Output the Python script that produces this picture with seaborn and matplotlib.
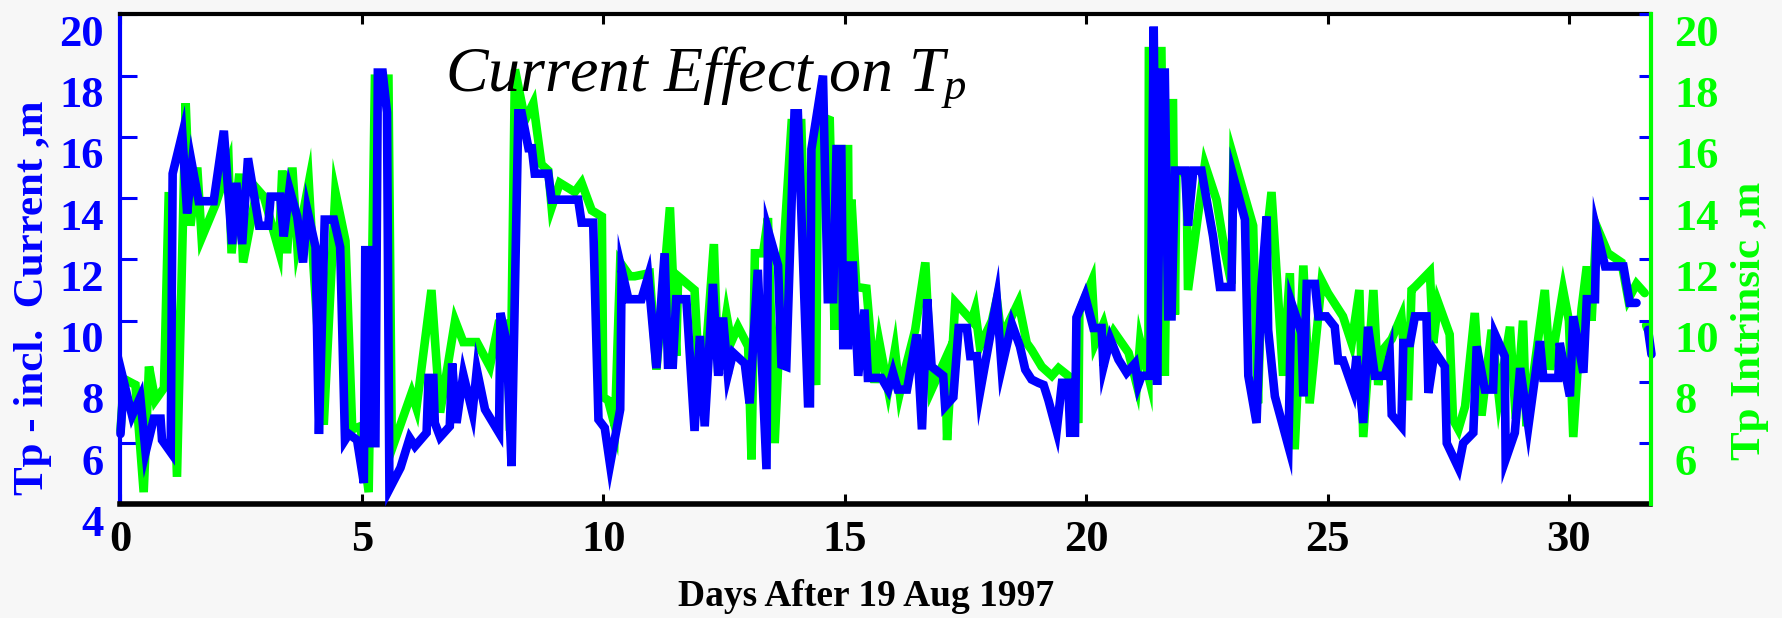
import numpy as np
import pandas as pd
import matplotlib
matplotlib.use("Agg")
import matplotlib.pyplot as plt
import seaborn as sns
from matplotlib.transforms import ScaledTranslation

# ---------------- data ----------------
blue_days = [0.00, 0.07, 0.24, 0.41, 0.52, 0.69, 0.83, 0.86, 1.04, 1.08, 1.28, 1.38, 1.48, 1.62, 1.93,
             2.14, 2.31, 2.40, 2.52, 2.64, 2.87, 3.06, 3.11, 3.31, 3.38, 3.50, 3.66, 3.78, 3.87, 4.04,
             4.11, 4.23, 4.42, 4.55, 4.65, 4.73, 4.90, 5.04, 5.07, 5.17, 5.22, 5.28, 5.33, 5.43, 5.52,
             5.57, 5.80, 5.99, 6.10, 6.34, 6.38, 6.48, 6.51, 6.62, 6.82, 6.87, 6.96, 7.10, 7.29, 7.38,
             7.55, 7.84, 7.87, 8.00, 8.10, 8.24, 8.31, 8.45, 8.52, 8.58, 8.86, 8.93, 9.48, 9.55, 9.79,
             9.90, 10.03, 10.14, 10.35, 10.38, 10.52, 10.79, 10.93, 11.10, 11.27, 11.34, 11.44, 11.51, 11.72, 11.89,
             12.00, 12.10, 12.27, 12.38, 12.48, 12.58, 12.69, 12.93, 13.03, 13.20, 13.38, 13.41, 13.62, 13.69, 13.79,
             13.96, 14.03, 14.24, 14.28, 14.31, 14.55, 14.65, 14.76, 14.83, 14.93, 14.97, 15.07, 15.10, 15.17, 15.28,
             15.41, 15.48, 15.76, 15.90, 16.00, 16.10, 16.29, 16.49, 16.60, 16.71, 16.80, 17.04, 17.08, 17.25, 17.36,
             17.53, 17.60, 17.74, 17.80, 18.15, 18.25, 18.46, 18.63, 18.74, 18.87, 19.01, 19.12, 19.22, 19.39, 19.50,
             19.63, 19.67, 19.77, 19.80, 19.98, 20.15, 20.32, 20.36, 20.50, 20.67, 20.84, 21.01, 21.08, 21.15, 21.33,
             21.40, 21.47, 21.55, 21.63, 21.70, 21.77, 21.84, 22.05, 22.11, 22.22, 22.39, 22.63, 22.77, 23.01, 23.05,
             23.29, 23.36, 23.53, 23.63, 23.74, 23.77, 23.91, 24.19, 24.25, 24.46, 24.50, 24.57, 24.74, 24.81, 24.98,
             25.15, 25.22, 25.32, 25.53, 25.60, 25.74, 25.84, 25.98, 26.19, 26.29, 26.33, 26.53, 26.57, 26.71, 26.81,
             27.05, 27.09, 27.22, 27.43, 27.47, 27.71, 27.81, 28.02, 28.09, 28.26, 28.43, 28.47, 28.67, 28.69, 28.88,
             28.99, 29.16, 29.40, 29.47, 29.78, 29.81, 30.02, 30.09, 30.30, 30.37, 30.54, 30.57, 30.75, 31.13, 31.26,
             31.40]
blue_tp = [6.3, 8.0, 6.9, 7.5, 5.7, 6.8, 6.8, 6.1, 5.7, 14.8, 16.1, 13.5, 15.1, 13.9, 13.9,
           16.2, 12.5, 14.5, 12.5, 15.3, 13.1, 13.1, 14.05, 14.05, 12.75, 14.3, 13.4, 11.9, 13.6, 12.4,
           6.3, 13.3, 13.3, 12.4, 6.1, 6.3, 6.1, 4.7, 12.3, 12.3, 6.0, 6.0, 18.1, 18.1, 16.8,
           4.5, 5.2, 6.17, 5.9, 6.34, 8.13, 8.13, 6.66, 6.2, 6.55, 8.6, 6.66, 8.24, 7.0, 8.4,
           7.1, 6.34, 10.25, 9.27, 5.25, 16.77, 16.77, 15.63, 15.63, 14.8, 14.8, 13.95, 13.95, 13.2, 13.2,
           6.77, 6.5, 5.3, 7.1, 11.66, 10.7, 10.7, 11.45, 8.45, 12.2, 8.56, 8.56, 10.7, 10.7, 6.4,
           9.5, 6.55, 11.2, 8.2, 10.1, 8.24, 8.95, 8.6, 7.3, 11.66, 5.15, 12.97, 11.8, 8.56, 8.5,
           16.77, 16.77, 7.3, 7.3, 15.6, 18.0, 10.7, 10.7, 15.6, 15.6, 9.2, 9.2, 11.8, 11.8, 8.2,
           10.36, 8.13, 8.13, 7.75, 8.3, 7.75, 7.75, 9.55, 6.45, 10.7, 8.5, 8.2, 7.2, 7.5, 9.76,
           9.76, 8.84, 8.84, 7.64, 10.7, 8.45, 9.9, 9.16, 8.4, 8.08, 7.97, 7.9, 7.4, 6.4, 7.97,
           7.97, 6.34, 6.34, 10.1, 10.8, 9.76, 9.76, 8.5, 9.4, 8.73, 8.3, 8.6, 7.9, 8.2, 8.2,
           19.6, 7.9, 18.1, 18.1, 10.14, 10.14, 14.9, 14.9, 13.1, 14.9, 14.9, 12.75, 11.1, 11.1, 14.7,
           13.3, 8.2, 6.66, 11.1, 13.4, 9.7, 7.53, 5.9, 10.6, 9.6, 7.53, 11.2, 11.2, 10.14, 10.14,
           9.8, 8.7, 8.7, 7.75, 8.84, 6.66, 9.8, 8.2, 8.2, 8.84, 6.93, 6.55, 9.27, 9.27, 10.14,
           10.14, 7.64, 9.0, 8.5, 6.0, 5.2, 6.0, 6.34, 9.16, 7.75, 7.75, 9.55, 8.84, 5.47, 6.34,
           8.45, 6.55, 9.33, 8.13, 8.13, 9.27, 7.53, 10.14, 8.3, 10.7, 10.7, 12.97, 11.77, 11.77, 10.58,
           10.58]
blue_tail_days = [31.64, 31.71]
blue_tail_tp = [9.7, 8.9]

green_days = [0.00, 0.07, 0.31, 0.48, 0.59, 0.72, 0.90, 1.00, 1.17, 1.35, 1.45, 1.59, 1.68, 1.97, 2.24,
              2.30, 2.46, 2.54, 2.83, 2.97, 3.28, 3.35, 3.45, 3.56, 3.66, 3.90, 4.00, 4.21, 4.45, 4.66,
              4.80, 4.97, 5.14, 5.27, 5.55, 5.62, 6.03, 6.13, 6.44, 6.62, 6.93, 7.10, 7.38, 7.65, 7.83,
              8.00, 8.07, 8.17, 8.38, 8.55, 8.72, 8.86, 8.93, 9.10, 9.41, 9.55, 9.76, 9.97, 10.00, 10.10,
              10.24, 10.35, 10.55, 10.65, 10.96, 11.10, 11.38, 11.51, 11.55, 11.89, 12.03, 12.29, 12.38, 12.55, 12.65,
              12.79, 13.00, 13.07, 13.14, 13.31, 13.41, 13.55, 13.72, 13.90, 14.10, 14.20, 14.41, 14.45, 14.69, 14.79,
              14.86, 15.07, 15.10, 15.14, 15.24, 15.45, 15.62, 15.72, 15.90, 16.04, 16.14, 16.25, 16.46, 16.67, 16.80,
              17.08, 17.12, 17.29, 17.63, 17.70, 17.80, 18.05, 18.15, 18.25, 18.60, 18.77, 18.87, 19.08, 19.29, 19.43,
              19.63, 19.84, 19.86, 20.12, 20.19, 20.36, 20.46, 20.57, 20.88, 21.05, 21.12, 21.29, 21.30, 21.56, 21.63,
              21.70, 21.80, 21.84, 21.87, 22.08, 22.11, 22.46, 22.70, 22.87, 23.01, 23.05, 23.46, 23.56, 23.63, 23.84,
              24.08, 24.22, 24.32, 24.50, 24.63, 24.88, 25.01, 25.32, 25.50, 25.66, 25.74, 25.95, 26.05, 26.15, 26.33,
              26.53, 26.67, 26.74, 26.81, 27.12, 27.19, 27.29, 27.53, 27.60, 27.71, 27.85, 28.05, 28.19, 28.40, 28.55,
              28.78, 28.90, 29.05, 29.12, 29.50, 29.61, 29.88, 30.00, 30.09, 30.26, 30.37, 30.47, 30.57, 30.81, 31.09,
              31.23, 31.40, 31.57]
green_tp = [6.4, 8.1, 7.9, 4.4, 8.5, 7.4, 7.8, 14.2, 4.9, 17.1, 13.1, 15.0, 12.7, 13.8, 15.1,
            12.2, 14.8, 11.9, 14.3, 14.05, 12.3, 14.9, 12.2, 15.0, 12.5, 14.5, 11.7, 6.6, 14.2, 12.6,
            6.45, 6.55, 4.4, 17.9, 17.9, 5.8, 7.64, 7.15, 11.0, 7.0, 10.0, 9.3, 9.3, 8.5, 9.9,
            9.9, 6.4, 18.2, 16.55, 17.1, 15.1, 14.9, 13.7, 14.5, 14.2, 14.5, 13.6, 13.4, 7.5, 7.4,
            6.55, 11.9, 11.45, 11.45, 11.55, 8.4, 13.7, 8.85, 11.45, 11.0, 6.9, 12.5, 8.3, 10.2, 9.3,
            9.8, 9.16, 5.47, 12.2, 12.2, 13.35, 6.0, 12.0, 16.45, 16.45, 10.9, 7.9, 16.7, 16.55, 9.7,
            15.6, 15.6, 9.4, 13.95, 11.1, 11.05, 7.97, 9.27, 7.75, 9.05, 7.64, 8.4, 9.7, 11.9, 7.75,
            8.73, 6.1, 10.6, 10.0, 10.36, 9.16, 10.0, 10.7, 9.45, 10.6, 9.27, 9.05, 8.5, 8.2, 8.45,
            8.2, 6.66, 10.3, 11.3, 9.27, 9.9, 9.27, 9.65, 8.95, 7.9, 9.33, 8.2, 18.8, 18.8, 8.2,
            17.1, 17.1, 10.2, 14.9, 14.8, 11.0, 15.1, 13.95, 12.3, 11.2, 15.35, 13.1, 7.3, 11.1, 14.2,
            8.2, 11.55, 5.8, 11.8, 7.3, 11.3, 10.9, 10.14, 9.27, 11.0, 6.2, 11.0, 7.9, 9.05, 9.4,
            10.14, 7.4, 11.0, 11.1, 11.6, 9.27, 10.6, 9.55, 6.77, 6.45, 7.2, 10.25, 6.9, 9.7, 7.5,
            9.8, 6.8, 10.0, 6.55, 11.0, 8.4, 11.0, 10.0, 6.2, 10.36, 11.77, 10.0, 13.1, 12.2, 11.9,
            10.7, 11.2, 10.9]
green_tail_days = [31.60, 31.62]
green_tail_tp = [9.85, 9.75]

x_ticks = [0, 5, 10, 15, 20, 25, 30]
left_ticks = [4, 6, 8, 10, 12, 14, 16, 18, 20]
right_ticks = [6, 8, 10, 12, 14, 16, 18, 20]

title_text = "Current Effect on $T_p$"
left_label = "Tp - incl.  Current ,m"
right_label = "Tp Intrinsic ,m"
x_label = "Days After 19 Aug 1997"

BLUE = "#0000ff"
GREEN = "#00ff00"

# ---------------- style ----------------
sns.set_theme(style="white")
plt.rcParams["font.family"] = ["Liberation Serif", "DejaVu Serif"]
plt.rcParams["font.weight"] = "normal"
plt.rcParams["mathtext.fontset"] = "custom"
plt.rcParams["mathtext.it"] = "Liberation Serif:style=italic:weight=normal"
plt.rcParams["mathtext.rm"] = "Liberation Serif:weight=normal"

W, H = 1783, 618
fig = plt.figure(figsize=(W / 100, H / 100), dpi=100, facecolor="#f7f7f7")
ax = fig.add_axes([120.5 / W, 1 - 504.4 / H, 1530 / W, 490 / H])
ax.set_facecolor("white")

line_kw = dict(estimator=None, sort=False, linewidth=6.2, solid_capstyle="round",
               solid_joinstyle="miter", clip_on=False)

gdf = pd.DataFrame({"day": green_days, "tp": green_tp})
bdf = pd.DataFrame({"day": blue_days, "tp": blue_tp})
sns.lineplot(data=gdf, x="day", y="tp", ax=ax, color=GREEN, zorder=2, **line_kw)
sns.lineplot(x=green_tail_days, y=green_tail_tp, ax=ax, color=GREEN, zorder=2, **line_kw)
sns.lineplot(data=bdf, x="day", y="tp", ax=ax, color=BLUE, zorder=3, **line_kw)
sns.lineplot(x=blue_tail_days, y=blue_tail_tp, ax=ax, color=BLUE, zorder=3, **line_kw)

ax.set_xlim(0, 31.69)
ax.set_ylim(4, 20)
ax.set_xlabel("")
ax.set_ylabel("")
ax.grid(False)

ax.set_xticks(x_ticks)
ax.set_xticklabels([str(t) for t in x_ticks])
ax.set_yticks(left_ticks)
ax.set_yticklabels([str(t) for t in left_ticks])

ax2 = ax.twinx()
ax2.set_ylim(4, 20)
ax2.set_yticks(right_ticks)
ax2.set_yticklabels([str(t) for t in right_ticks])
ax2.grid(False)

ax.tick_params(axis="x", direction="in", length=7, width=2.2, color="black", labelcolor="black",
               labelsize=32, pad=11, top=True, bottom=True)
ax.tick_params(axis="y", direction="in", length=12, width=2.2, color=BLUE, labelcolor=BLUE,
               labelsize=32, pad=12, left=True, right=False)
ax2.tick_params(axis="y", direction="in", length=9, width=2.2, color=BLUE, labelcolor=GREEN,
                labelsize=32, pad=17, right=True, left=False)

for lab in ax.get_xticklabels() + ax.get_yticklabels() + ax2.get_yticklabels():
    lab.set_fontweight("bold")

shift = ScaledTranslation(0, -16 / 100, fig.dpi_scale_trans)
for lab in ax.get_yticklabels() + ax2.get_yticklabels():
    lab.set_transform(lab.get_transform() + shift)

for s in ["top", "bottom", "left", "right"]:
    ax.spines[s].set_visible(True)
    ax2.spines[s].set_visible(False)
ax.spines["left"].set_color(BLUE)
ax.spines["left"].set_linewidth(3)
ax.spines["top"].set_color("black")
ax.spines["top"].set_linewidth(3)
ax.spines["bottom"].set_color("black")
ax.spines["bottom"].set_linewidth(4)
ax.spines["right"].set_visible(False)
ax2.spines["right"].set_visible(True)
ax2.spines["right"].set_color(GREEN)
ax2.spines["right"].set_linewidth(3)

# texts
fig.text(445 / W, 1 - 90 / H, title_text, fontsize=46, style="italic", fontweight="normal",
         color="black", ha="left", va="baseline")
fig.text(33 / W, 1 - 298 / H, left_label, rotation=90, fontsize=31, fontweight="bold",
         color=BLUE, ha="center", va="center")
fig.text(1750 / W, 1 - 321 / H, right_label, rotation=90, fontsize=31, fontweight="bold",
         color=GREEN, ha="center", va="center")
fig.text(866 / W, 1 - 596 / H, x_label, fontsize=27, fontweight="bold", color="black",
         ha="center", va="center")

fig.savefig("out.png", dpi=100, facecolor=fig.get_facecolor())
